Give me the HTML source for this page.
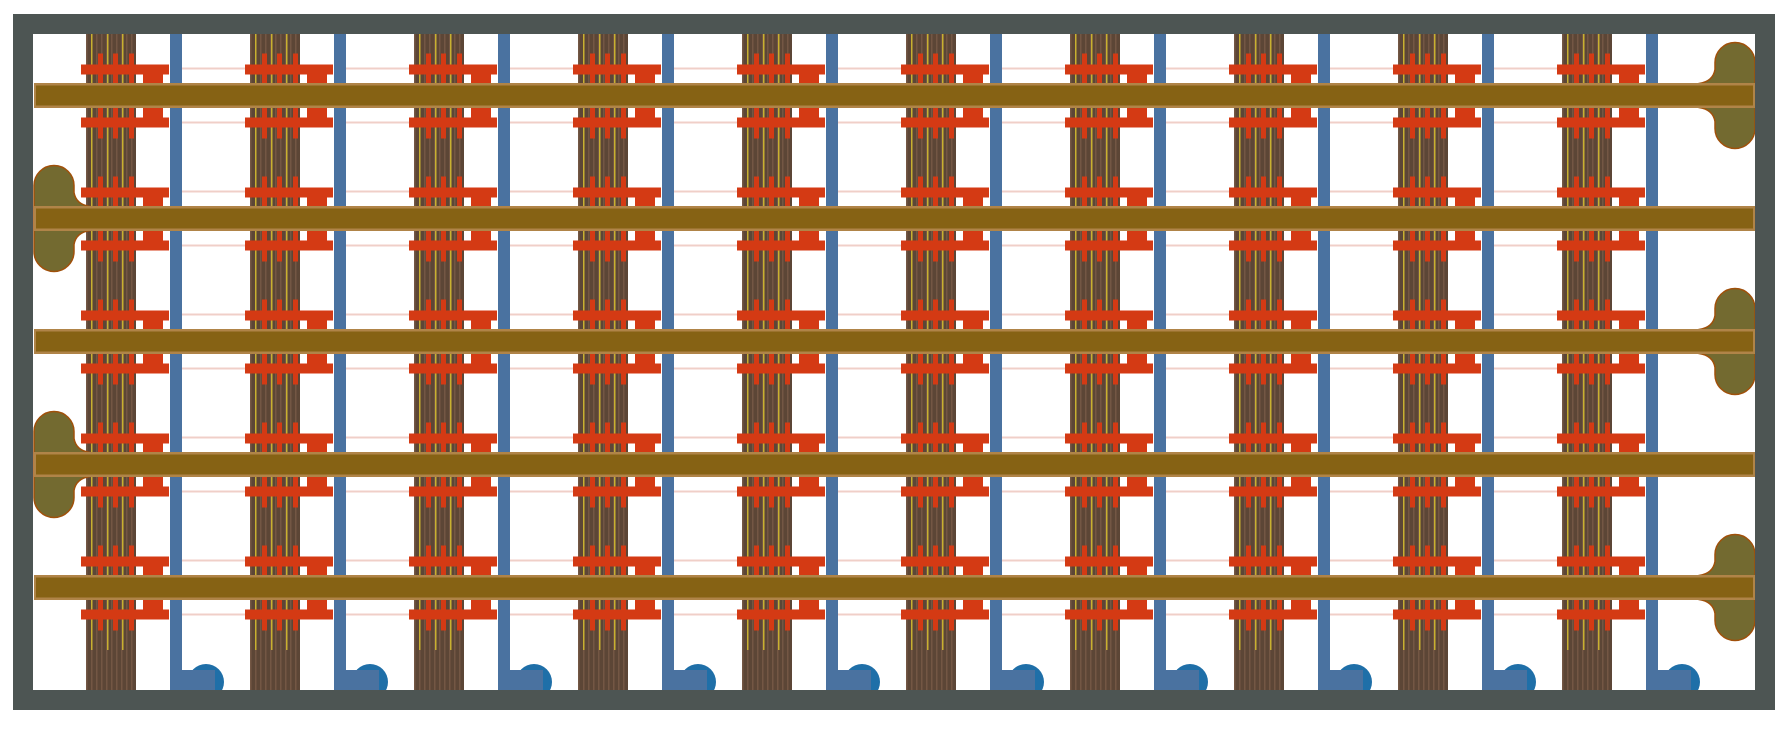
<!DOCTYPE html>
<html><head><meta charset="utf-8"><style>html,body{margin:0;padding:0;background:#fff}svg{display:block}</style></head>
<body>
<svg width="1788" height="732" viewBox="0 0 1788 732" xmlns="http://www.w3.org/2000/svg">
<defs>
<pattern id="col" x="0" y="0" width="5" height="10" patternUnits="userSpaceOnUse">
<rect width="5" height="10" fill="#5c4636"/><rect width="1.5" height="10" fill="#735744"/>
</pattern>
<g id="comb">
<rect x="-5" y="-31" width="88" height="10" fill="#d43a14"/>
<rect x="57" y="-22" width="20" height="10" fill="#d43a14"/>
<rect x="12" y="-42" width="5" height="30" fill="#d43a14"/>
<rect x="27" y="-42" width="5" height="30" fill="#d43a14"/>
<rect x="43" y="-42" width="5" height="30" fill="#d43a14"/>
<rect x="-5" y="22" width="88" height="10" fill="#d43a14"/>
<rect x="57" y="12" width="20" height="10" fill="#d43a14"/>
<rect x="12" y="12" width="5" height="31" fill="#d43a14"/>
<rect x="27" y="12" width="5" height="31" fill="#d43a14"/>
<rect x="43" y="12" width="5" height="31" fill="#d43a14"/>
</g>
<g id="pink">
<rect x="96" y="-28" width="68" height="2" fill="#f0cfc8"/>
<rect x="96" y="26" width="68" height="2" fill="#f0cfc8"/>
</g>
<g id="column0">
<rect x="0" y="34" width="50" height="656" fill="url(#col)"/>
<rect x="5" y="34" width="1.5" height="616" fill="#c8b030"/>
<rect x="21" y="34" width="1.5" height="616" fill="#c8b030"/>
<rect x="36" y="34" width="1.5" height="616" fill="#c8b030"/>
<rect x="84" y="34" width="12" height="656" fill="#4a72a0"/>
<circle cx="120" cy="682" r="18" fill="#1f6fa8"/>
<rect x="84" y="670" width="45" height="20" fill="#4a72a0"/>
<use href="#comb" y="95.5"/>
<use href="#comb" y="218.5"/>
<use href="#comb" y="341.5"/>
<use href="#comb" y="464.5"/>
<use href="#comb" y="587.5"/>
</g>
<g id="column">
<use href="#column0"/>
<use href="#pink" y="95.5"/>
<use href="#pink" y="218.5"/>
<use href="#pink" y="341.5"/>
<use href="#pink" y="464.5"/>
<use href="#pink" y="587.5"/>
</g>
<g id="blobL">
<path d="M34 -33 A20 20 0 0 1 74 -33 L74 -26 Q76 -14 90 -12 L90 12 Q76 14 74 26 L74 33 A20 20 0 0 1 34 33 Z" fill="#736a30" stroke="#a0500a" stroke-width="1.5"/>
</g>
<g id="blobR">
<path d="M1755 -33 A20 20 0 0 0 1715 -33 L1715 -26 Q1713 -14 1699 -12 L1699 12 Q1713 14 1715 26 L1715 33 A20 20 0 0 0 1755 33 Z" fill="#736a30" stroke="#a0500a" stroke-width="1.5"/>
</g>
<g id="bar"><rect x="34" y="-12.5" width="1721" height="25" fill="#b08448"/><rect x="36" y="-10" width="1717" height="20" fill="#866214"/></g>
</defs>
<rect x="33" y="34" width="1722" height="656" fill="#fff"/>
<use href="#column" x="86"/>
<use href="#column" x="250"/>
<use href="#column" x="414"/>
<use href="#column" x="578"/>
<use href="#column" x="742"/>
<use href="#column" x="906"/>
<use href="#column" x="1070"/>
<use href="#column" x="1234"/>
<use href="#column" x="1398"/>
<use href="#column0" x="1562"/>
<use href="#blobR" y="95.5"/>
<use href="#blobL" y="218.5"/>
<use href="#blobR" y="341.5"/>
<use href="#blobL" y="464.5"/>
<use href="#blobR" y="587.5"/>
<use href="#bar" y="95.5"/>
<use href="#bar" y="218.5"/>
<use href="#bar" y="341.5"/>
<use href="#bar" y="464.5"/>
<use href="#bar" y="587.5"/>
<path d="M13 14 H1775 V710 H13 Z M33 34 V690 H1755 V34 Z" fill="#4d5553" fill-rule="evenodd"/>
</svg>
</body></html>
